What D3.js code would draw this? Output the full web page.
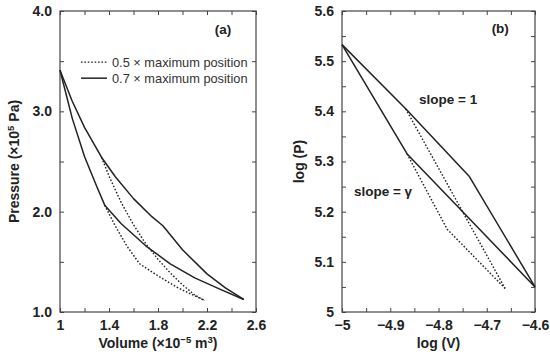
<!DOCTYPE html>
<html>
<head>
<meta charset="utf-8">
<script src="https://cdn.jsdelivr.net/npm/d3@7"></script>
<style>
  body { margin: 0; background: #fff; }
  svg { display: block; font-family: "Liberation Sans", Arial, sans-serif; }
  .tick text { font-size: 14px; font-weight: bold; fill: #222; }
  .tick line { stroke: #444; }
  .domain { stroke: none; }
</style>
</head>
<body>
<svg id="chart" width="550" height="358"></svg>
<script>
// panel (a): volume (x1e-5 m3) vs pressure (x1e5 Pa)
const aUpperSolid = [[1.0,3.41],[1.1,3.10],[1.2,2.84],[1.34,2.54],[1.45,2.35],[1.6,2.13],[1.75,1.95],[1.84,1.86],[2.0,1.62],[2.2,1.38],[2.35,1.24],[2.5,1.125]]
const aLowerSolid = [[1.0,3.41],[1.1,2.93],[1.2,2.55],[1.3,2.25],[1.365,2.065],[1.5,1.88],[1.7,1.66],[1.9,1.48],[2.1,1.34],[2.3,1.23],[2.5,1.125]]
const aUpperDash = [[1.34,2.54],[1.4,2.355],[1.5,2.09],[1.6,1.87],[1.7,1.68],[1.8,1.525],[1.9,1.39],[2.0,1.27],[2.1,1.17],[2.18,1.115]]
const aLowerDash = [[1.365,2.065],[1.45,1.86],[1.55,1.65],[1.65,1.48],[1.8,1.36],[1.95,1.25],[2.05,1.19],[2.18,1.115]]

// panel (b): log(V) vs log(P)
const bUpperSolid = [[-5,5.533],[-4.868,5.405],[-4.736,5.27],[-4.6,5.05]]
const bLowerSolid = [[-5,5.533],[-4.865,5.315],[-4.6,5.05]]
const bUpperDash = [[-4.868,5.405],[-4.662,5.047]]
const bLowerDash = [[-4.865,5.315],[-4.782,5.165],[-4.662,5.047]]

const aXTicks = [1.0,1.2,1.4,1.6,1.8,2.0,2.2,2.4,2.6]
const aXLabels = [1.0,1.4,1.8,2.2,2.6]
const aYTicks = [1.0,1.5,2.0,2.5,3.0,3.5,4.0]
const aYLabels = [1.0,2.0,3.0,4.0]
const bXTicks = [-5,-4.95,-4.9,-4.85,-4.8,-4.75,-4.7,-4.65,-4.6]
const bXLabels = [-5,-4.9,-4.8,-4.7,-4.6]
const bYTicks = [5,5.05,5.1,5.15,5.2,5.25,5.3,5.35,5.4,5.45,5.5,5.55,5.6]
const bYLabels = [5,5.1,5.2,5.3,5.4,5.5,5.6]

const legendItems = ['0.5 \u00d7 maximum position','0.7 \u00d7 maximum position']

const svg = d3.select('#chart')
const ink = '#222'

function panel(opt){
  const x = d3.scaleLinear().domain(opt.xDomain).range([opt.left, opt.right])
  const y = d3.scaleLinear().domain(opt.yDomain).range([opt.bottom, opt.top])
  const g = svg.append('g')
  const has = (arr, d) => arr.some(v => Math.abs(v - d) < 1e-9)

  g.append('g').attr('transform', `translate(0,${opt.bottom})`)
    .call(d3.axisBottom(x).tickValues(opt.xTicks).tickSizeInner(-4).tickSizeOuter(0).tickPadding(8)
      .tickFormat(d => has(opt.xLabels, d) ? opt.xFmt(d) : ''))
  g.append('g').attr('transform', `translate(0,${opt.top})`)
    .call(d3.axisTop(x).tickValues(opt.xTicks).tickSizeInner(-4).tickSizeOuter(0).tickFormat(''))
  g.append('g').attr('transform', `translate(${opt.left},0)`)
    .call(d3.axisLeft(y).tickValues(opt.yTicks).tickSizeInner(-4).tickSizeOuter(0).tickPadding(8)
      .tickFormat(d => has(opt.yLabels, d) ? opt.yFmt(d) : ''))
  g.append('g').attr('transform', `translate(${opt.right},0)`)
    .call(d3.axisRight(y).tickValues(opt.yTicks).tickSizeInner(-4).tickSizeOuter(0).tickFormat(''))

  g.append('rect')
    .attr('x', opt.left).attr('y', opt.top)
    .attr('width', opt.right - opt.left).attr('height', opt.bottom - opt.top)
    .attr('fill', 'none').attr('stroke', '#444').attr('stroke-width', 1.2)

  const line = d3.line().x(d => x(d[0])).y(d => y(d[1]))
  opt.solid.forEach(s => {
    g.append('path').datum(s).attr('d', line)
      .attr('fill', 'none').attr('stroke', ink).attr('stroke-width', 1.5).attr('stroke-linejoin', 'round')
  })
  opt.dashed.forEach(s => {
    g.append('path').datum(s).attr('d', line)
      .attr('fill', 'none').attr('stroke', ink).attr('stroke-width', 1.4).attr('stroke-dasharray', '1.6,1.8')
  })

  g.append('text').attr('x', (opt.left + opt.right) / 2).attr('y', 348)
    .attr('text-anchor', 'middle').attr('font-size', 14).attr('font-weight', 'bold').attr('fill', ink)
    .html(opt.xTitle)
  g.append('text').attr('transform', `translate(${opt.yTitleX},${(opt.top + opt.bottom) / 2}) rotate(-90)`)
    .attr('text-anchor', 'middle').attr('font-size', 14).attr('font-weight', 'bold').attr('fill', ink)
    .html(opt.yTitle)
  return {x, y, g}
}

const A = panel({
  left: 60, right: 256, top: 11, bottom: 312,
  xDomain: [1, 2.6], yDomain: [1, 4],
  xTicks: aXTicks, xLabels: aXLabels, yTicks: aYTicks, yLabels: aYLabels,
  xFmt: d => d === 1 ? '1' : d3.format('.1f')(d), yFmt: d3.format('.1f'),
  solid: [aUpperSolid, aLowerSolid], dashed: [aUpperDash, aLowerDash],
  xTitle: 'Volume (\u00d710<tspan dy="-5" font-size="9.5">\u22125</tspan><tspan dy="5"> m</tspan><tspan dy="-5" font-size="9.5">3</tspan><tspan dy="5">)</tspan>',
  yTitle: 'Pressure (\u00d710<tspan dy="-5" font-size="9.5">5</tspan><tspan dy="5"> Pa)</tspan>',
  yTitleX: 19
})

const B = panel({
  left: 342, right: 535, top: 11, bottom: 312,
  xDomain: [-5, -4.6], yDomain: [5, 5.6],
  xTicks: bXTicks, xLabels: bXLabels, yTicks: bYTicks, yLabels: bYLabels,
  xFmt: d3.format(''), yFmt: d3.format(''),
  solid: [bUpperSolid, bLowerSolid], dashed: [bUpperDash, bLowerDash],
  xTitle: 'log (V)', yTitle: 'log (P)', yTitleX: 304
})

// panel labels and annotations
A.g.append('text').attr('x', A.x(2.33)).attr('y', A.y(3.77)).attr('text-anchor', 'middle')
  .attr('font-size', 13.5).attr('font-weight', 'bold').attr('fill', ink).text('(a)')
B.g.append('text').attr('x', B.x(-4.672)).attr('y', B.y(5.557)).attr('text-anchor', 'middle')
  .attr('font-size', 13.5).attr('font-weight', 'bold').attr('fill', ink).text('(b)')
B.g.append('text').attr('x', B.x(-4.78)).attr('y', B.y(5.414)).attr('text-anchor', 'middle')
  .attr('font-size', 13.5).attr('font-weight', 'bold').attr('fill', ink).text('slope = 1')
B.g.append('text').attr('x', B.x(-4.915)).attr('y', B.y(5.231)).attr('text-anchor', 'middle')
  .attr('font-size', 13.5).attr('font-weight', 'bold').attr('fill', ink).text('slope = \u03b3')

// legend
const leg = A.g.append('g')
legendItems.forEach((t, i) => {
  const yy = A.y(3.49) + i * 16
  leg.append('line').attr('x1', 81).attr('x2', 107).attr('y1', yy).attr('y2', yy)
    .attr('stroke', ink).attr('stroke-width', i === 0 ? 1.3 : 1.5)
    .attr('stroke-dasharray', i === 0 ? '1.6,1.8' : null)
  leg.append('text').attr('x', 112).attr('y', yy + 4.5).attr('font-size', 12.8).attr('fill', '#333').text(t)
})
</script>
</body>
</html>
